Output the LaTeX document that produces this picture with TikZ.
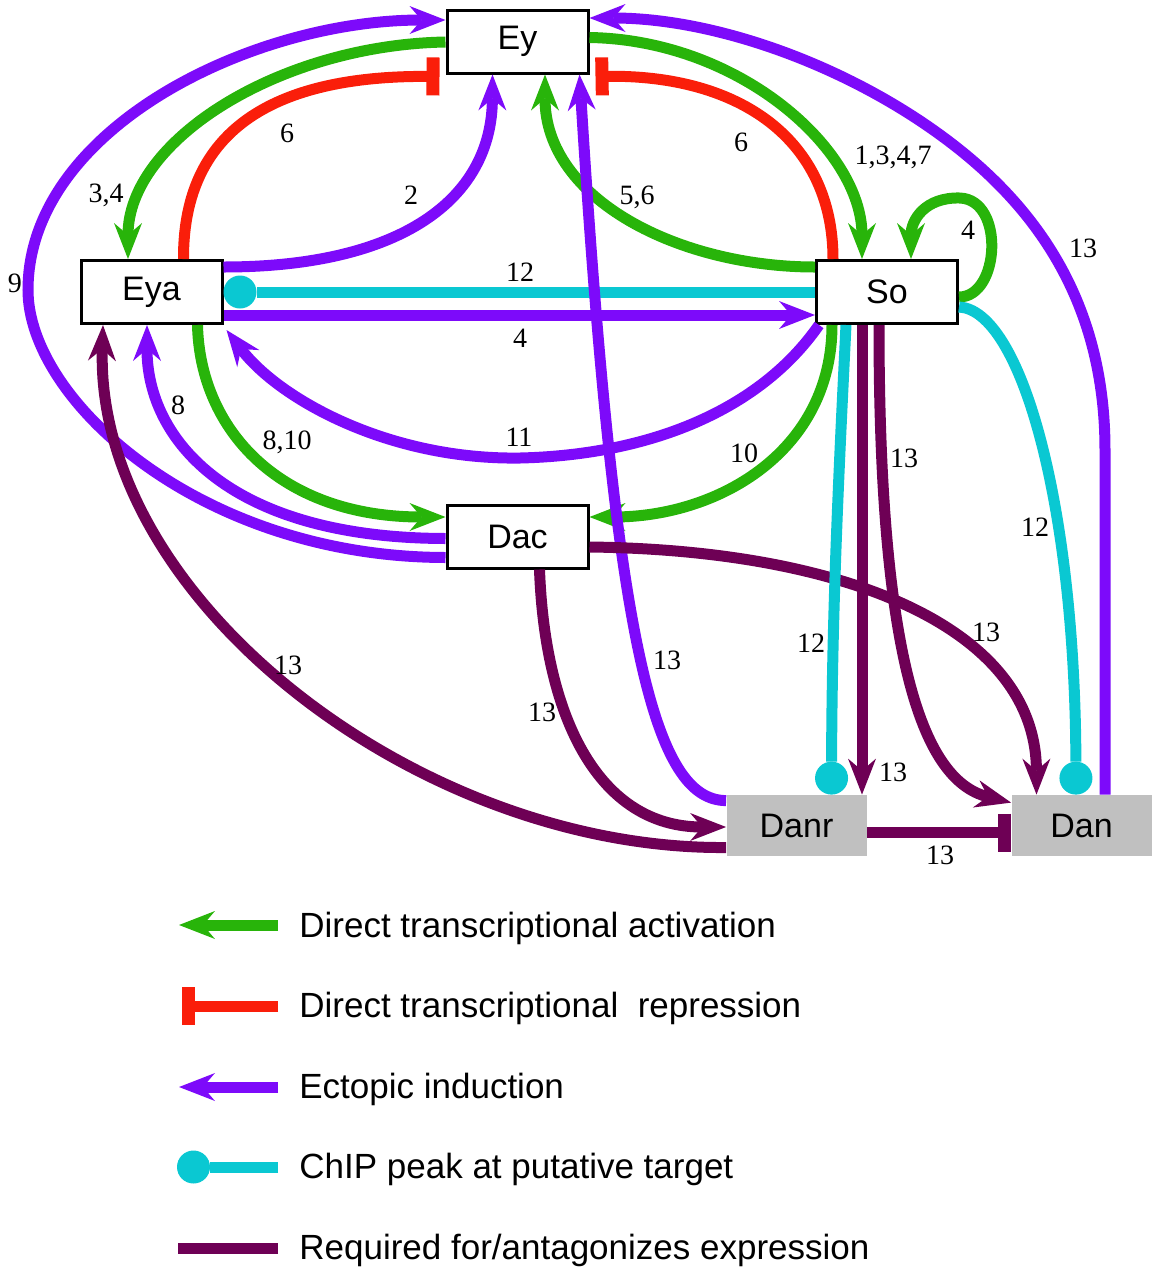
\documentclass[tikz,border=0pt]{standalone}
\usepackage{fontspec}
\setmainfont{Liberation Serif}
\newfontfamily\sansf{Liberation Sans}
\usetikzlibrary{arrows.meta,calc}
\definecolor{cgreen}{RGB}{40,180,10}
\definecolor{cred}{RGB}{250,30,10}
\definecolor{cpurple}{RGB}{125,10,250}
\definecolor{ccyan}{RGB}{10,200,210}
\definecolor{cmaroon}{RGB}{110,0,85}
\definecolor{cgray}{RGB}{192,192,192}
\tikzset{
  gene/.style={draw=black, line width=1.5pt, fill=white, minimum width=70.5pt,
    minimum height=31.5pt, inner sep=0pt, font=\sansf\fontsize{17}{17}\selectfont},
  tgt/.style={fill=cgray, minimum width=70pt, minimum height=30.5pt, inner sep=0pt,
    font=\sansf\fontsize{17}{17}\selectfont},
  lnk/.style={line width=5.5pt},
  tipa/.tip={Stealth[length=18pt,width=14pt,inset=6pt,line width=0pt]},
  act/.style={lnk, draw=cgreen, -tipa},
  rep/.style={lnk, draw=cred, -{Bar[width=19pt,line width=6.5pt]}},
  ect/.style={lnk, draw=cpurple, -tipa},
  chip/.style={lnk, draw=ccyan, -{Circle[length=16.5pt,line width=0pt]}},
  req/.style={lnk, draw=cmaroon, -tipa},
  reqbar/.style={lnk, draw=cmaroon, -{Bar[width=19pt,line width=6.5pt]}},
  reqline/.style={lnk, draw=cmaroon},
  num/.style={font=\fontsize{14}{14}\selectfont, inner sep=0pt},
  legtxt/.style={font=\sansf\fontsize{17.5}{17.5}\selectfont, inner sep=0pt, anchor=base west},
}
\begin{document}
\begin{tikzpicture}[x=0.5pt,y=-0.5pt]
\useasboundingbox (0,0) rectangle (1153,1270);

% nodes
\node[gene] (Ey)  at (517.5,41.5) {Ey};
\node[gene] (Eya) at (151.5,292) {Eya};
\node[gene] (So)  at (887,292) {So};
\node[gene] (Dac) at (517.5,536.5) {Dac};
\node[tgt]  (Danr) at (796.5,825.5) {Danr};
\node[tgt]  (Dan)  at (1081.5,825.5) {Dan};

% A purple 9 : Dac -> Ey (outer left)
\draw[ect] ($(Dac.west)+(0,21)$) .. controls (200,557) and (28,400) .. (28,290)
  .. controls (28,130) and (250,20) .. ($(Ey.west)+(0,-21.5)$);
% B green 3,4 : Ey -> Eya
\draw[act] ($(Ey.west)+(0,0.5)$) .. controls (280,45) and (128,140) .. ($(Eya.north)+(-23.5,0)$);
% C red 6 : Eya -| Ey
\draw[rep] ($(Eya.north)+(32,0)$) .. controls (183,140) and (260,75) .. ($(Ey.south west)+(-6,2)$);
% D purple 2 : Eya -> Ey
\draw[ect] ($(Eya.east)+(0,-25)$) .. controls (400,267) and (492,200) .. ($(Ey.south)+(-25,0)$);
% E cyan 12 : So -o Eya
\draw[chip] (So.west) -- (Eya.east);
% F purple 4 : Eya -> So
\draw[ect] ($(Eya.east)+(0,23)$) -- ($(So.west)+(0,23)$);
% G purple 11 : So -> Eya
\draw[ect] ($(So.south west)+(4,0)$) .. controls (760,410) and (650,455) .. (520,458)
  .. controls (390,460) and (280,400) .. ($(Eya.south east)+(3,5)$);
% H green 8,10 : Eya -> Dac
\draw[act] ($(Eya.south)+(46,0)$) .. controls (200,430) and (280,517) .. ($(Dac.west)+(0,-19.5)$);
% I purple 8 : Dac -> Eya
\draw[ect] ($(Dac.west)+(0,2)$) .. controls (230,538) and (147,440) .. ($(Eya.south)+(-4.5,0)$);
% J green 5,6 : So -> Ey
\draw[act] ($(So.west)+(0,-25)$) .. controls (680,267) and (545,200) .. ($(Ey.south)+(27.5,0)$);
% K red 6 : So -| Ey
\draw[rep] ($(So.north)+(-54,0)$) .. controls (833,140) and (740,74) .. ($(Ey.south east)+(6,2)$);
% L green 1,3,4,7 : Ey -> So
\draw[act] ($(Ey.east)+(0,-4)$) .. controls (740,40) and (862,150) .. ($(So.north)+(-25,0)$);
% M purple 13 : Dan -> Ey (outer right)
\draw[ect] ($(Dan.north)+(23.5,0)$) -- (1105,450) .. controls (1105,330) and (1060,230) .. (960,150)
  .. controls (860,70) and (720,18) .. ($(Ey.east)+(0,-23.5)$);
% N green self loop 4 on So
\draw[act] ($(So.east)+(0,5)$) .. controls (1000,297) and (1005,200) .. (960,198)
  .. controls (925,197) and (911,220) .. ($(So.north)+(24,0)$);
% green 10 : So -> Dac
\draw[act] ($(So.south)+(-55,0)$) .. controls (832,450) and (720,517) .. ($(Dac.east)+(0,-19.5)$);
% O purple 13 : Danr -> Ey
\draw[ect] ($(Danr.north west)+(0,6)$) .. controls (655,800) and (615,650) .. ($(Ey.south)+(62,0)$);
% P maroon 13 : Dac -> Danr
\draw[req] ($(Dac.south)+(22,0)$) .. controls (545,720) and (600,827) .. ($(Danr.west)+(0,1.5)$);
% Q maroon 13 : Danr -> Eya
\draw[req] ($(Danr.west)+(0,22)$) .. controls (420,850) and (95,600) .. ($(Eya.south)+(-48.5,0)$);
% R maroon 13 : Dac -> Dan
\draw[req] ($(Dac.east)+(0,10.5)$) .. controls (850,550) and (1036,630) .. ($(Dan.north)+(-45,0)$);
% S cyan 12 : So -o Danr
\draw[chip] ($(So.south)+(-41,0)$) .. controls (840,450) and (832,600) .. ($(Danr.north)+(35,0)$);
% T maroon 13 : So -> Danr
\draw[req] ($(So.south)+(-25,0)$) -- ($(Danr.north)+(65.5,0)$);
% U maroon 13 : So -> Dan
\draw[req] ($(So.south)+(-8,0)$) .. controls (879,650) and (920,780) .. ($(Dan.north west)+(0,8)$);
% V cyan 12 : So -o Dan
\draw[chip] ($(So.east)+(0,15)$) .. controls (1020,310) and (1075,500) .. ($(Dan.north)+(-5.5,0)$);
% W maroon 13 : Danr -| Dan
\draw[reqbar] ($(Danr.east)+(0,7)$) -- ($(Dan.west)+(0,7)$);

% edge labels
\node[num] (n1)  at (287,133) {6};
\node[num] (n2)  at (106,195) {3,4};
\node[num] (n3)  at (411,195) {2};
\node[num] (n4)  at (15,283) {9};
\node[num] (n5)  at (520,272) {12};
\node[num] (n6)  at (520,338) {4};
\node[num] (n7)  at (741,142) {6};
\node[num] (n8)  at (893,157) {1,3,4,7};
\node[num] (n9)  at (637,197) {5,6};
\node[num] (n10) at (968,230) {4};
\node[num] (n11) at (1083,248) {13};
\node[num] (n12) at (178,405) {8};
\node[num] (n13) at (287,442) {8,10};
\node[num] (n14) at (519,437) {11};
\node[num] (n15) at (744,453) {10};
\node[num] (n16) at (904,458) {13};
\node[num] (n17) at (1035,527) {12};
\node[num] (n18) at (986,632) {13};
\node[num] (n19) at (811,643) {12};
\node[num] (n20) at (667,660) {13};
\node[num] (n21) at (288,665) {13};
\node[num] (n22) at (542,712) {13};
\node[num] (n23) at (893,772) {13};
\node[num] (n24) at (940,855) {13};

% legend
\coordinate (la1) at (278,925);  \coordinate (lb1) at (179,925);
\coordinate (la2) at (278,1006); \coordinate (lb2) at (182,1006);
\coordinate (la3) at (278,1087); \coordinate (lb3) at (179,1087);
\coordinate (la4) at (278,1167); \coordinate (lb4) at (177,1167);
\coordinate (la5) at (278,1248); \coordinate (lb5) at (178,1248);
\draw[act] (la1) -- (lb1);
\draw[rep] (la2) -- (lb2);
\draw[ect] (la3) -- (lb3);
\draw[chip] (la4) -- (lb4);
\draw[reqline] (la5) -- (lb5);
\node[legtxt] (t1) at (299,937) {Direct transcriptional activation};
\node[legtxt] (t2) at (299,1017) {Direct transcriptional\ \ repression};
\node[legtxt] (t3) at (299,1098) {Ectopic induction};
\node[legtxt] (t4) at (299,1178) {ChIP peak at putative target};
\node[legtxt] (t5) at (299,1259) {Required for/antagonizes expression};
\end{tikzpicture}
\end{document}
